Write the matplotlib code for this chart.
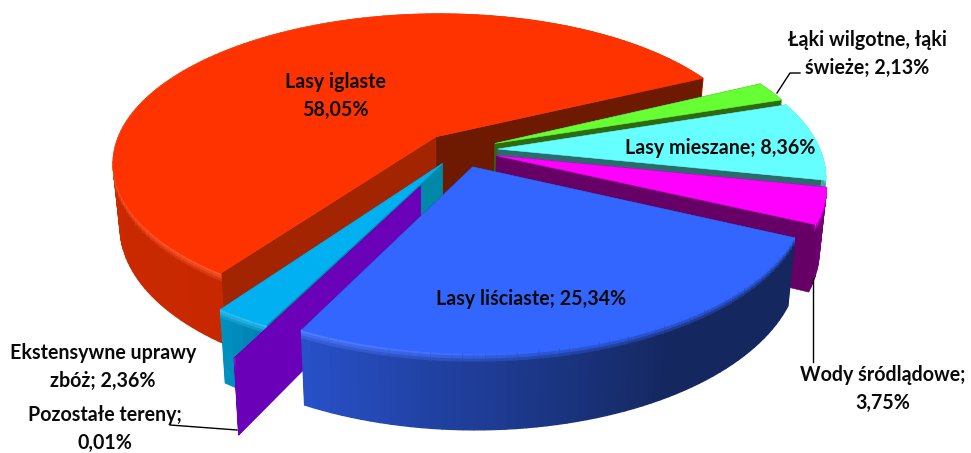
import numpy as np
import matplotlib
matplotlib.use("Agg")
import matplotlib.pyplot as plt
from matplotlib.patches import Polygon
from matplotlib.colors import to_rgb

# drawing order is back to front, not the order of the sheet
names = ["Lasy iglaste", "Łąki wilgotne, łąki świeże", "Lasy mieszane", "Wody śródlądowe",
         "Ekstensywne uprawy zbóż", "Pozostałe tereny", "Lasy liściaste"]
values = [58.05, 2.13, 8.36, 3.75, 2.36, 0.01, 25.34]
clockwise = [1, 2, 3, 6, 5, 4, 0]  # sheet order, going clockwise from the first slice

top_col = ["#ff3300", "#66ff33", "#66ffff", "#ff00ff", "#00b0f0", "#6a00b8", "#3366ff"]
rim_col = [("#d83200", "#c82800"), ("#3a8a18", "#3a8a18"), ("#3aa8a8", "#58d0d0"),
           ("#660066", "#800080"), ("#0090c0", "#0080b0"), ("#6a00b8", "#6a00b8"),
           ("#2850c8", "#14275f")]
rim_rate = [1, 1, 1, 1, 1, 1, 1.6]
wall_col = [("#6e1a00", "#a32400"), ("#2e6b10", "#2e6b10"), ("#2a6b6b", "#2a6b6b"),
            ("#660066", "#660066"), ("#0088a8", "#0088a8"), ("#6a00b8", "#6a00b8"),
            ("#14275f", "#14275f")]
explode = [0.118, 0.118, 0.118, 0.118, 0.105, 0.265, 0.118]

START = 26.0
CX, CY = 460.0, 150.0
A, B, K = 322.0, 148.0, 0.1715
H = 62.0


def proj(x, y, z=0.0):
    s = 1.0 / (1.0 + K * np.asarray(y))
    return CX + A * np.asarray(x) * s * (1 - 0.02 * z / H), CY - B * np.asarray(y) * s + z * s


def mix(c1, c2, t):
    c1, c2 = np.array(to_rgb(c1)), np.array(to_rgb(c2))
    return tuple(c1 + (c2 - c1) * t)


# angles per slice from the values
spans = {}
a = START
for i in clockwise:
    spans[i] = (a - values[i] * 3.6, a)
    a -= values[i] * 3.6

fig = plt.figure(figsize=(9.71, 4.53), dpi=100)
ax = fig.add_axes([0, 0, 1, 1])
ax.set_xlim(0, 971)
ax.set_ylim(453, 0)
ax.axis("off")


def quad(xs, ys, col, zo, lw=0.4):
    ax.add_patch(Polygon(np.column_stack([xs, ys]), closed=True, fc=col, ec=col, lw=lw, zorder=zo))


for idx in range(len(values)):
    a0, a1 = spans[idx]
    mid = np.radians((a0 + a1) / 2)
    ox, oy = explode[idx] * np.cos(mid), explode[idx] * np.sin(mid)
    n = max(2, int((a1 - a0) / 1.5))
    t = np.radians(np.linspace(a0, a1, n))
    wx, wy = ox + np.cos(t), oy + np.sin(t)

    parts = []
    # radial walls
    for ex, ey, col in [(wx[0], wy[0], wall_col[idx][0]), (wx[-1], wy[-1], wall_col[idx][1])]:
        parts.append(((oy + ey) / 2, "wall", (ex, ey, col)))
    # rim
    for j in range(n - 1):
        parts.append(((wy[j] + wy[j + 1]) / 2, "rim", j))
    parts.sort(key=lambda p: -p[0])

    zo = 10 + idx * 2
    for _, kind, d in parts:
        if kind == "wall":
            ex, ey, col = d
            x1, y1 = proj(np.array([ox, ex]), np.array([oy, ey]))
            x2, y2 = proj(np.array([ex, ox]), np.array([ey, oy]), H)
            quad(np.r_[x1, x2], np.r_[y1, y2], col, zo)
        else:
            j = d
            f = j / (n - 2) if n > 2 else 0.5
            xs, ys = wx[j:j + 2], wy[j:j + 2]
            base = mix(rim_col[idx][0], rim_col[idx][1], min(1, f * rim_rate[idx]))
            x1, y1 = proj(xs, ys)
            x2, y2 = proj(xs[::-1], ys[::-1], H)
            quad(np.r_[x1, x2], np.r_[y1, y2], base, zo, lw=1.0)
            # bevel along the top edge
            left = np.clip(-np.mean(xs) * 1.4 + 0.3, 0, 1)
            edge = mix(top_col[idx], "white", 0.18 * left)
            for k in range(4):
                z0, z1 = H * 0.04 * k, H * 0.04 * (k + 1)
                c = mix(edge, base, k / 3)
                x1, y1 = proj(xs, ys, z0)
                x2, y2 = proj(xs[::-1], ys[::-1], z1)
                quad(np.r_[x1, x2], np.r_[y1, y2], c, zo, lw=1.0)
    px, py = proj(np.r_[ox, wx], np.r_[oy, wy])
    quad(px, py, top_col[idx], zo + 1)

# leader lines
for lx, ly in [([777, 790, 800], [93, 73, 73]), ([813, 813], [278, 362]), ([170, 237], [425, 430])]:
    ax.plot(lx, ly, color="black", lw=1.0, zorder=40)

labels = [("Łąki wilgotne, łąki\nświeże; 2,13%", 867, 54), ("Lasy iglaste\n58,05%", 335, 96),
          ("Lasy mieszane; 8,36%", 720, 148), ("Lasy liściaste; 25,34%", 531, 299),
          ("Wody śródlądowe;\n3,75%", 883, 389), ("Ekstensywne uprawy\nzbóż; 2,36%", 103, 367),
          ("Pozostałe tereny;\n0,01%", 105, 429)]
for txt, lx, ly in labels:
    ax.text(lx, ly, txt, family="Lato", weight="bold", fontsize=14.1, color="#0a0a0a",
            ha="center", va="center", linespacing=1.5, zorder=50)

fig.savefig("out.png", dpi=100)
